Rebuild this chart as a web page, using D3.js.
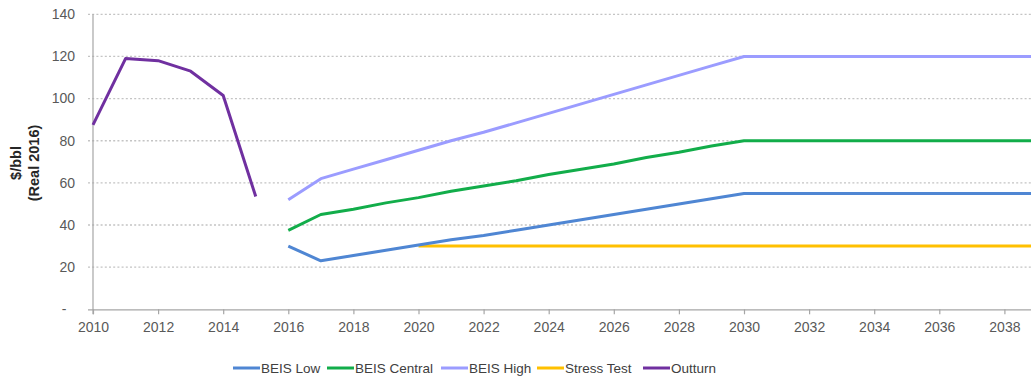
<!DOCTYPE html>
<html><head><meta charset="utf-8">
<script src="https://cdn.jsdelivr.net/npm/d3@7"></script>
<style>body{margin:0;background:#fff;}svg{display:block;font-family:"Liberation Sans",Arial,sans-serif;}</style>
</head><body>
<svg id="c" width="1031" height="379"></svg>
<script>
const projYears = d3.range(2016, 2041);
const beisLow     = [30,23,25.5,28,30.5,33,35,37.5,40,42.5,45,47.5,50,52.5,55,55,55,55,55,55,55,55,55,55,55];
const beisCentral = [37.5,45,47.5,50.5,53,56,58.5,61,64,66.5,69,72,74.5,77.5,80,80,80,80,80,80,80,80,80,80,80];
const beisHigh    = [52,62,66.5,71,75.5,80,84,88.5,93,97.5,102,106.5,111,115.5,120,120,120,120,120,120,120,120,120,120,120];
const stressYears = d3.range(2020, 2041);
const stressTest  = [30,30,30,30,30,30,30,30,30,30,30,30,30,30,30,30,30,30,30,30,30];
const outturnYears = [2010,2011,2012,2013,2014,2015];
const outturn      = [87.5,119,118,113,101.5,53.5];
const yTicks = [0,20,40,60,80,100,120,140];
const xTicks = d3.range(2010, 2039, 2);

const series = [
  {name:"BEIS Low", years:projYears, vals:beisLow, color:"#4f86d3"},
  {name:"BEIS Central", years:projYears, vals:beisCentral, color:"#12ad4a"},
  {name:"BEIS High", years:projYears, vals:beisHigh, color:"#9b9cff"},
  {name:"Stress Test", years:stressYears, vals:stressTest, color:"#ffc000"},
  {name:"Outturn", years:outturnYears, vals:outturn, color:"#7030a0"}
];
const drawOrder = [3,0,1,2,4];

const svg = d3.select("#c");
const x = d3.scaleLinear().domain([2010, 2040]).range([93, 93 + 30*32.55]);
const y = d3.scaleLinear().domain([0, 140]).range([309.3, 14.3]);

// gridlines
svg.append("g").selectAll("line").data(yTicks.filter(d=>d>0)).join("line")
  .attr("x1", 88).attr("x2", 1031)
  .attr("y1", d=>y(d)).attr("y2", d=>y(d))
  .attr("stroke", "#c4c4c4").attr("stroke-width", 1.3).attr("stroke-dasharray", "2,2.2");

// y tick labels
svg.append("g").selectAll("text").data(yTicks).join("text")
  .attr("x", d=> d===0 ? 64 : 75).attr("y", d=>y(d)).attr("dy","0.35em")
  .attr("text-anchor", d=> d===0 ? "middle":"end")
  .attr("font-size", 14).attr("fill", "#595959")
  .text(d=> d===0 ? "-" : d);

// axes
const xAxis = d3.axisBottom(x).tickValues(xTicks).tickSize(5).tickFormat(d3.format("d"));
const gx = svg.append("g").attr("transform", `translate(0,${y(0)})`).call(xAxis);
gx.select(".domain").attr("stroke", "#a6a6a6").attr("stroke-width", 1.2).attr("d", `M88,0.5H1031`);
gx.selectAll(".tick line").attr("stroke", "#a6a6a6").attr("stroke-width", 1.2);
gx.selectAll(".tick text").attr("font-size", 14).attr("fill", "#595959")
  .attr("font-family", "Liberation Sans, Arial, sans-serif").attr("y", 13);
svg.append("line").attr("x1", x(2010)).attr("x2", x(2010)).attr("y1", y(140)).attr("y2", y(0)+5)
  .attr("stroke", "#a6a6a6").attr("stroke-width", 1.2);

// y label
const yl = svg.append("text").attr("transform", "translate(21,163) rotate(-90)")
  .attr("text-anchor", "middle").attr("font-weight", "bold").attr("font-size", 14.5).attr("fill", "#262626");
yl.append("tspan").attr("x", 0).attr("dy", "0").text("$/bbl");
yl.append("tspan").attr("x", 0).attr("dy", "1.25em").text("(Real 2016)");

// lines
const line = d3.line().x(d=>x(d[0])).y(d=>y(d[1]));
drawOrder.forEach(i => {
  const s = series[i];
  svg.append("path").datum(s.years.map((yr,j)=>[yr, s.vals[j]]))
    .attr("d", line).attr("fill", "none").attr("stroke", s.color)
    .attr("stroke-width", 3).attr("stroke-linejoin", "round");
});

// legend
const legX = [233, 327, 441, 537, 643];
const lg = svg.append("g");
series.forEach((s,i) => {
  lg.append("line").attr("x1", legX[i]).attr("x2", legX[i]+27).attr("y1", 368).attr("y2", 368)
    .attr("stroke", s.color).attr("stroke-width", 3);
  lg.append("text").attr("x", legX[i]+28).attr("y", 368).attr("dy", "0.35em")
    .attr("font-size", 13.5).attr("textLength", null).attr("fill", "#404040").text(s.name);
});
</script>
</body></html>
